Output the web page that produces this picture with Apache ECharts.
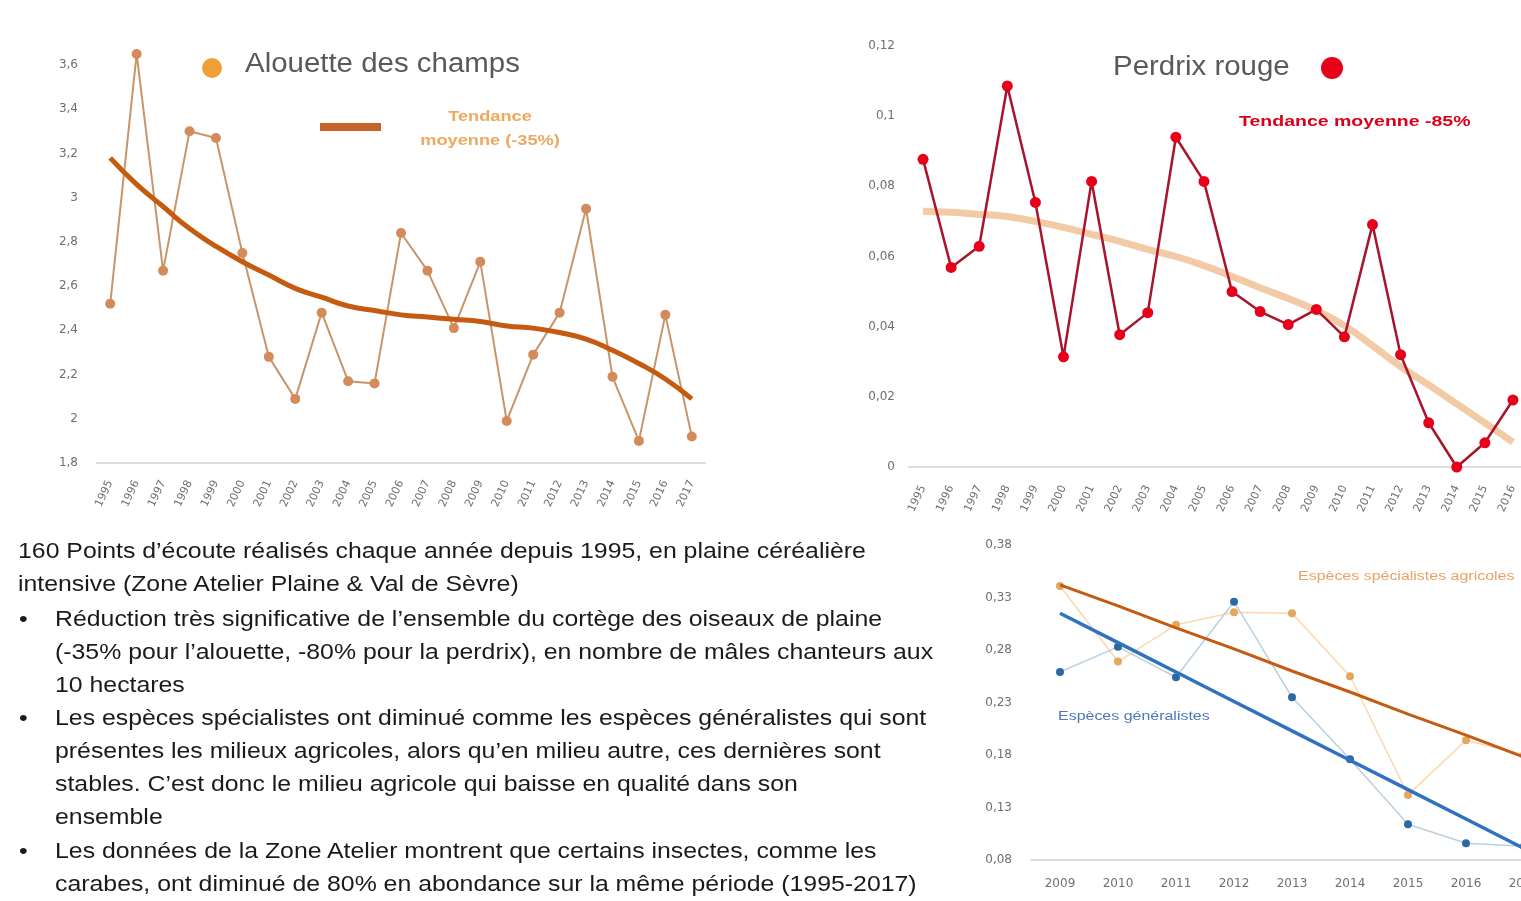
<!DOCTYPE html>
<html>
<head>
<meta charset="utf-8">
<script src="https://cdn.jsdelivr.net/npm/echarts@6/dist/echarts.min.js"></script>
<style>
  html, body { margin: 0; padding: 0; background: #fff; overflow: hidden; }
  #chart { position: absolute; left: 0; top: 0; width: 1560px; height: 901px; }
  .txt { position: absolute; font-family: "Liberation Sans", Arial, sans-serif; font-size: 22px; color: #1a1a1a;
         white-space: nowrap; line-height: 26px; transform-origin: 0 50%; transform: scaleX(1.08); }
</style>
</head>
<body>
<div id="chart"></div>
<div id="texte"></div>
<script>
// Alouette des champs
const alouetteYears = ['1995','1996','1997','1998','1999','2000','2001','2002','2003','2004','2005','2006',
  '2007','2008','2009','2010','2011','2012','2013','2014','2015','2016','2017'];
const alouetteValues = [2.52, 3.65, 2.67, 3.30, 3.27, 2.75, 2.28, 2.09, 2.48, 2.17, 2.16, 2.84,
  2.67, 2.41, 2.71, 1.99, 2.29, 2.48, 2.95, 2.19, 1.90, 2.47, 1.92];
const alouetteTrend = [3.18, 3.06, 2.96, 2.86, 2.78, 2.71, 2.65, 2.59, 2.55, 2.51, 2.49, 2.47,
  2.46, 2.45, 2.44, 2.42, 2.41, 2.39, 2.36, 2.31, 2.25, 2.18, 2.09];

// Perdrix rouge
const perdrixYears = ['1995','1996','1997','1998','1999','2000','2001','2002','2003','2004','2005',
  '2006','2007','2008','2009','2010','2011','2012','2013','2014','2015','2016'];
const perdrixValues = [0.0877, 0.0569, 0.0629, 0.1086, 0.0754, 0.0314, 0.0814, 0.0377, 0.044, 0.094, 0.0814,
  0.050, 0.0443, 0.0406, 0.0449, 0.0371, 0.0691, 0.032, 0.0126, 0, 0.0069, 0.0191];
const perdrixTrend = [0.0729, 0.0726, 0.072, 0.0714, 0.070, 0.0683, 0.0663, 0.0643, 0.062, 0.060, 0.0574,
  0.0543, 0.0511, 0.048, 0.0446, 0.0403, 0.0346, 0.0286, 0.0234, 0.018, 0.0126, 0.0071];

// Espèces généralistes / spécialistes
const groupYears = ['2009','2010','2011','2012','2013','2014','2015','2016','2017'];
const generalistes = [0.259, 0.283, 0.254, 0.326, 0.235, 0.176, 0.114, 0.096, 0.093];
const specialistes = [0.341, 0.269, 0.304, 0.316, 0.315, 0.255, 0.142, 0.194, 0.180];
const generalistesTrend = [0.315, 0.287, 0.259, 0.231, 0.203, 0.175, 0.147, 0.119, 0.091];
const specialistesTrend = [0.342, 0.322, 0.301, 0.281, 0.260, 0.240, 0.219, 0.199, 0.178];

const texteLignes = [
  { x: 18, y: 551, t: "160 Points d\u2019écoute réalisés chaque année depuis 1995, en plaine céréalière" },
  { x: 18, y: 584, t: "intensive (Zone Atelier Plaine & Val de Sèvre)" },
  { x: 55, y: 619, t: "Réduction très significative de l\u2019ensemble du cortège des oiseaux de plaine", b: true },
  { x: 55, y: 652, t: "(-35% pour l\u2019alouette, -80% pour la perdrix), en nombre de mâles chanteurs aux" },
  { x: 55, y: 685, t: "10 hectares" },
  { x: 55, y: 718, t: "Les espèces spécialistes ont diminué comme les espèces généralistes qui sont", b: true },
  { x: 55, y: 751, t: "présentes les milieux agricoles, alors qu\u2019en milieu autre, ces dernières sont" },
  { x: 55, y: 784, t: "stables. C\u2019est donc le milieu agricole qui baisse en qualité dans son" },
  { x: 55, y: 817, t: "ensemble" },
  { x: 55, y: 851, t: "Les données de la Zone Atelier montrent que certains insectes, comme les", b: true },
  { x: 55, y: 884, t: "carabes, ont diminué de 80% en abondance sur la même période (1995-2017)" }
];

var box = document.getElementById('texte');
texteLignes.forEach(function (l) {
  var d = document.createElement('div');
  d.className = 'txt';
  d.style.left = l.x + 'px';
  d.style.top = (l.y - 13) + 'px';
  d.textContent = l.t;
  box.appendChild(d);
  if (l.b) {
    var p = document.createElement('div');
    p.className = 'txt';
    p.style.left = '19px';
    p.style.top = (l.y - 13) + 'px';
    p.textContent = '\u2022';
    box.appendChild(p);
  }
});
// cale la largeur de la premiere ligne sur celle de la diapo (848 px)
var lignes = box.querySelectorAll('.txt');
var w0 = lignes[0].getBoundingClientRect().width / 1.08;
var sx = 848 / w0;
lignes.forEach(function (d) { d.style.transform = 'scaleX(' + sx.toFixed(3) + ')'; });

var virgule = function (v) { return String(+v.toFixed(2)).replace('.', ','); };
var grey = '#6f6f6f';
var tickFont = 'DejaVu Sans';

var myChart = echarts.init(document.getElementById('chart'));
myChart.setOption({
  animation: false,
  textStyle: { fontFamily: 'Liberation Sans, Arial, sans-serif' },
  grid: [
    { left: 97, top: 65, width: 608, height: 398 },
    { left: 909, top: 46, width: 618, height: 421 },
    { left: 1031, top: 545, width: 522, height: 315 }
  ],
  xAxis: [
    {
      gridIndex: 0, type: 'category', data: alouetteYears,
      axisLine: { lineStyle: { color: '#dcdcdc', width: 2 } },
      axisTick: { show: false },
      axisLabel: { rotate: 65, fontSize: 11, fontFamily: tickFont, color: grey, margin: 18 }
    },
    {
      gridIndex: 1, type: 'category', data: perdrixYears,
      axisLine: { lineStyle: { color: '#dcdcdc', width: 2 } },
      axisTick: { show: false },
      axisLabel: { rotate: 65, fontSize: 11, fontFamily: tickFont, color: grey, margin: 19 }
    },
    {
      gridIndex: 2, type: 'category', data: groupYears,
      axisLine: { lineStyle: { color: '#dcdcdc', width: 2 } },
      axisTick: { show: false },
      axisLabel: { fontSize: 12, fontFamily: tickFont, color: grey, margin: 18 }
    }
  ],
  yAxis: [
    {
      gridIndex: 0, type: 'value', min: 1.8, max: 3.6, interval: 0.2,
      axisLine: { show: false }, axisTick: { show: false }, splitLine: { show: false },
      axisLabel: { formatter: virgule, fontSize: 12, fontFamily: tickFont, color: grey, margin: 19 }
    },
    {
      gridIndex: 1, type: 'value', min: 0, max: 0.12, interval: 0.02,
      axisLine: { show: false }, axisTick: { show: false }, splitLine: { show: false },
      axisLabel: { formatter: virgule, fontSize: 12, fontFamily: tickFont, color: grey, margin: 14 }
    },
    {
      gridIndex: 2, type: 'value', min: 0.08, max: 0.38, interval: 0.05,
      axisLine: { show: false }, axisTick: { show: false }, splitLine: { show: false },
      axisLabel: { formatter: virgule, fontSize: 12, fontFamily: tickFont, color: grey, margin: 19 }
    }
  ],
  graphic: [
    { type: 'circle', shape: { cx: 212, cy: 68, r: 10 }, style: { fill: '#f0a038' } },
    { type: 'text', x: 245, y: 65, scaleX: 1.09, style: { text: 'Alouette des champs', verticalAlign: 'middle',
      font: '27px "Liberation Sans", Arial, sans-serif', fill: '#595959' } },
    { type: 'line', shape: { x1: 320, y1: 127, x2: 381, y2: 127 }, style: { stroke: '#c8642a', lineWidth: 8 } },
    { type: 'text', x: 490, y: 129, scaleX: 1.3, style: { text: 'Tendance\nmoyenne (-35%)', align: 'center', verticalAlign: 'middle',
      lineHeight: 24, font: 'bold 14px "Liberation Sans", Arial, sans-serif', fill: '#eea860' } },
    { type: 'text', x: 1113, y: 68, scaleX: 1.09, style: { text: 'Perdrix rouge', verticalAlign: 'middle',
      font: '27px "Liberation Sans", Arial, sans-serif', fill: '#595959' } },
    { type: 'circle', shape: { cx: 1332, cy: 68, r: 11 }, style: { fill: '#e8001a' } },
    { type: 'text', x: 1239, y: 122, scaleX: 1.3, style: { text: 'Tendance moyenne -85%', verticalAlign: 'middle',
      font: 'bold 15px "Liberation Sans", Arial, sans-serif', fill: '#d9001b' } },
    { type: 'text', x: 1058, y: 717, scaleX: 1.33, style: { text: 'Espèces généralistes', verticalAlign: 'middle',
      font: '12px "Liberation Sans", Arial, sans-serif', fill: '#4a78b8' } },
    { type: 'text', x: 1298, y: 577, scaleX: 1.33, style: { text: 'Espèces spécialistes agricoles', verticalAlign: 'middle',
      font: '12px "Liberation Sans", Arial, sans-serif', fill: '#eaa060' } }
  ],
  series: [
    {
      name: 'Alouette des champs', type: 'line', xAxisIndex: 0, yAxisIndex: 0,
      data: alouetteValues, clip: false, z: 2,
      symbol: 'circle', symbolSize: 10,
      lineStyle: { color: '#c8956a', width: 2 },
      itemStyle: { color: '#d48b5c' }
    },
    {
      name: 'Tendance alouette', type: 'line', xAxisIndex: 0, yAxisIndex: 0,
      data: alouetteTrend, smooth: true, showSymbol: false, z: 3,
      lineStyle: { color: '#c55a11', width: 5 }
    },
    {
      name: 'Tendance perdrix', type: 'line', xAxisIndex: 1, yAxisIndex: 1,
      data: perdrixTrend, smooth: true, showSymbol: false, z: 1,
      lineStyle: { color: '#f2c49c', width: 7, opacity: 0.9 }
    },
    {
      name: 'Perdrix rouge', type: 'line', xAxisIndex: 1, yAxisIndex: 1,
      data: perdrixValues, clip: false, z: 2,
      symbol: 'circle', symbolSize: 11,
      lineStyle: { color: '#a8142a', width: 2.5 },
      itemStyle: { color: '#e8001a' }
    },
    {
      name: 'Espèces spécialistes agricoles', type: 'line', xAxisIndex: 2, yAxisIndex: 2,
      data: specialistes, z: 1, symbol: 'circle', symbolSize: 8,
      lineStyle: { color: '#fbd7ad', width: 1.5 },
      itemStyle: { color: '#e2a85e' }
    },
    {
      name: 'Espèces généralistes', type: 'line', xAxisIndex: 2, yAxisIndex: 2,
      data: generalistes, z: 1, symbol: 'circle', symbolSize: 8,
      lineStyle: { color: '#b9d0e2', width: 1.5 },
      itemStyle: { color: '#2a6aa3' }
    },
    {
      name: 'Tendance spécialistes', type: 'line', xAxisIndex: 2, yAxisIndex: 2,
      data: specialistesTrend, showSymbol: false, z: 3,
      lineStyle: { color: '#c55a11', width: 3 }
    },
    {
      name: 'Tendance généralistes', type: 'line', xAxisIndex: 2, yAxisIndex: 2,
      data: generalistesTrend, showSymbol: false, z: 3,
      lineStyle: { color: '#2e72c0', width: 3.5 }
    }
  ]
});
</script>
</body>
</html>
